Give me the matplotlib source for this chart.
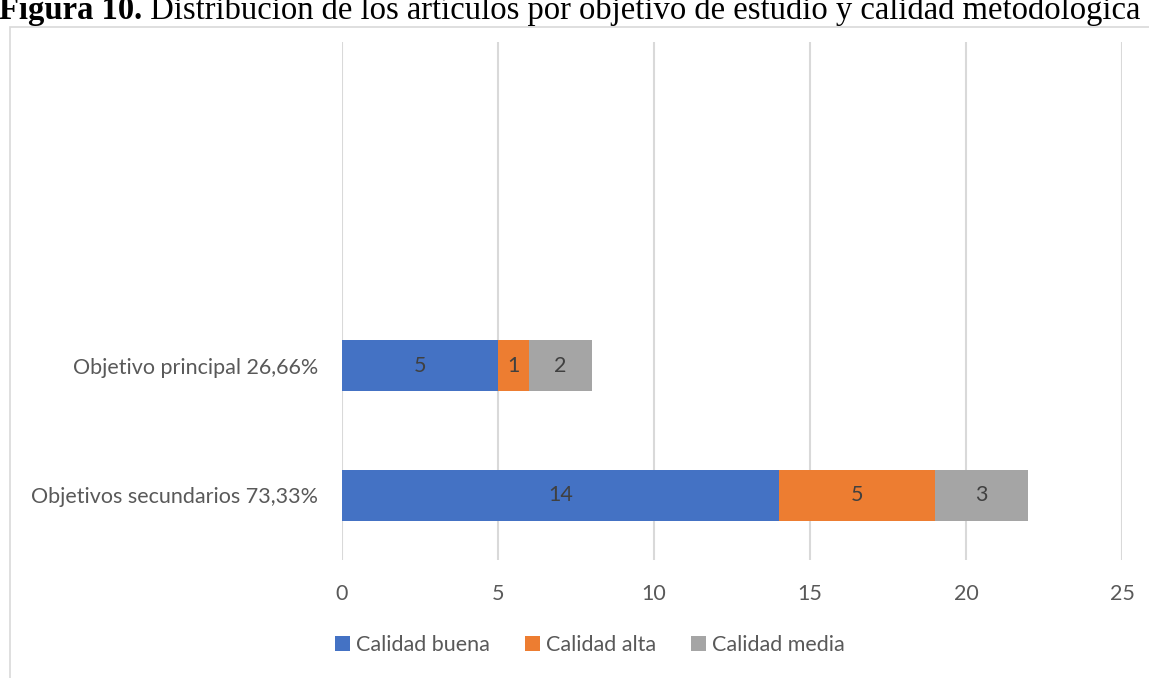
import matplotlib
import matplotlib.pyplot as plt
import numpy as np
from matplotlib.patches import Rectangle

matplotlib.use("Agg")

# data
categories = ["Objetivos secundarios 73,33%", "Objetivo principal 26,66%"]
series_names = ["Calidad buena", "Calidad alta", "Calidad media"]
calidad_buena = [14, 5]
calidad_alta = [5, 1]
calidad_media = [3, 2]
x_ticks = [0, 5, 10, 15, 20, 25]

colors = ["#4472C4", "#ED7D31", "#A5A5A5"]
TEXT = "#595959"
LABEL = "#404040"
GRID = "#D9D9D9"
FS = 15.5

plt.rcParams["font.family"] = ["Lato", "DejaVu Sans"]

fig = plt.figure(figsize=(11.49, 6.78), dpi=100)
ax = fig.add_axes([342 / 1149, 1 - 560 / 678, (1122 - 342) / 1149, (560 - 42) / 678])

# outer chart border (partly clipped, like the source screenshot)
fig.add_artist(Rectangle((10 / 1149, -0.05), 1.2, 1.05 - 27 / 678,
                         transform=fig.transFigure, fill=False,
                         edgecolor=GRID, lw=1.2))

# title, cut at the top edge as in the source
t1 = fig.text(-0.001, 1 - 19 / 678, "Figura 10.", fontsize=23.5, fontweight="bold",
              family="Liberation Serif", va="baseline", ha="left", color="black")
ax.annotate(" Distribución de los artículos por objetivo de estudio y calidad metodológica",
            xy=(1, 0), xycoords=t1, va="bottom", ha="left", fontsize=23.5,
            family="Liberation Serif", color="black", annotation_clip=False)

y = np.arange(len(categories))
left = np.zeros(len(categories))
for name, vals, c in zip(series_names, [calidad_buena, calidad_alta, calidad_media], colors):
    bars = ax.barh(y, vals, left=left, height=0.39, color=c, label=name, zorder=3)
    ax.bar_label(bars, labels=[str(v) for v in vals], label_type="center",
                 color=LABEL, fontsize=FS)
    left = left + np.array(vals)

ax.set_xlim(0, 25)
ax.set_ylim(-0.5, 3.5)
ax.set_xticks(x_ticks)
ax.set_yticks(y)
ax.set_yticklabels(categories)
ax.grid(axis="x", color=GRID, lw=1.5, zorder=0)
ax.tick_params(axis="x", length=0, pad=17, labelsize=FS, labelcolor=TEXT)
ax.tick_params(axis="y", length=0, pad=17, labelsize=FS, labelcolor=TEXT)
for s in ax.spines.values():
    s.set_visible(False)

fig.legend(loc="center", bbox_to_anchor=(590 / 1149, 1 - 645 / 678), ncol=3,
           frameon=False, fontsize=FS, labelcolor=TEXT, handlelength=0.7,
           handleheight=0.7, handletextpad=0.3, columnspacing=1.6)

fig.savefig("out.png", dpi=100)
